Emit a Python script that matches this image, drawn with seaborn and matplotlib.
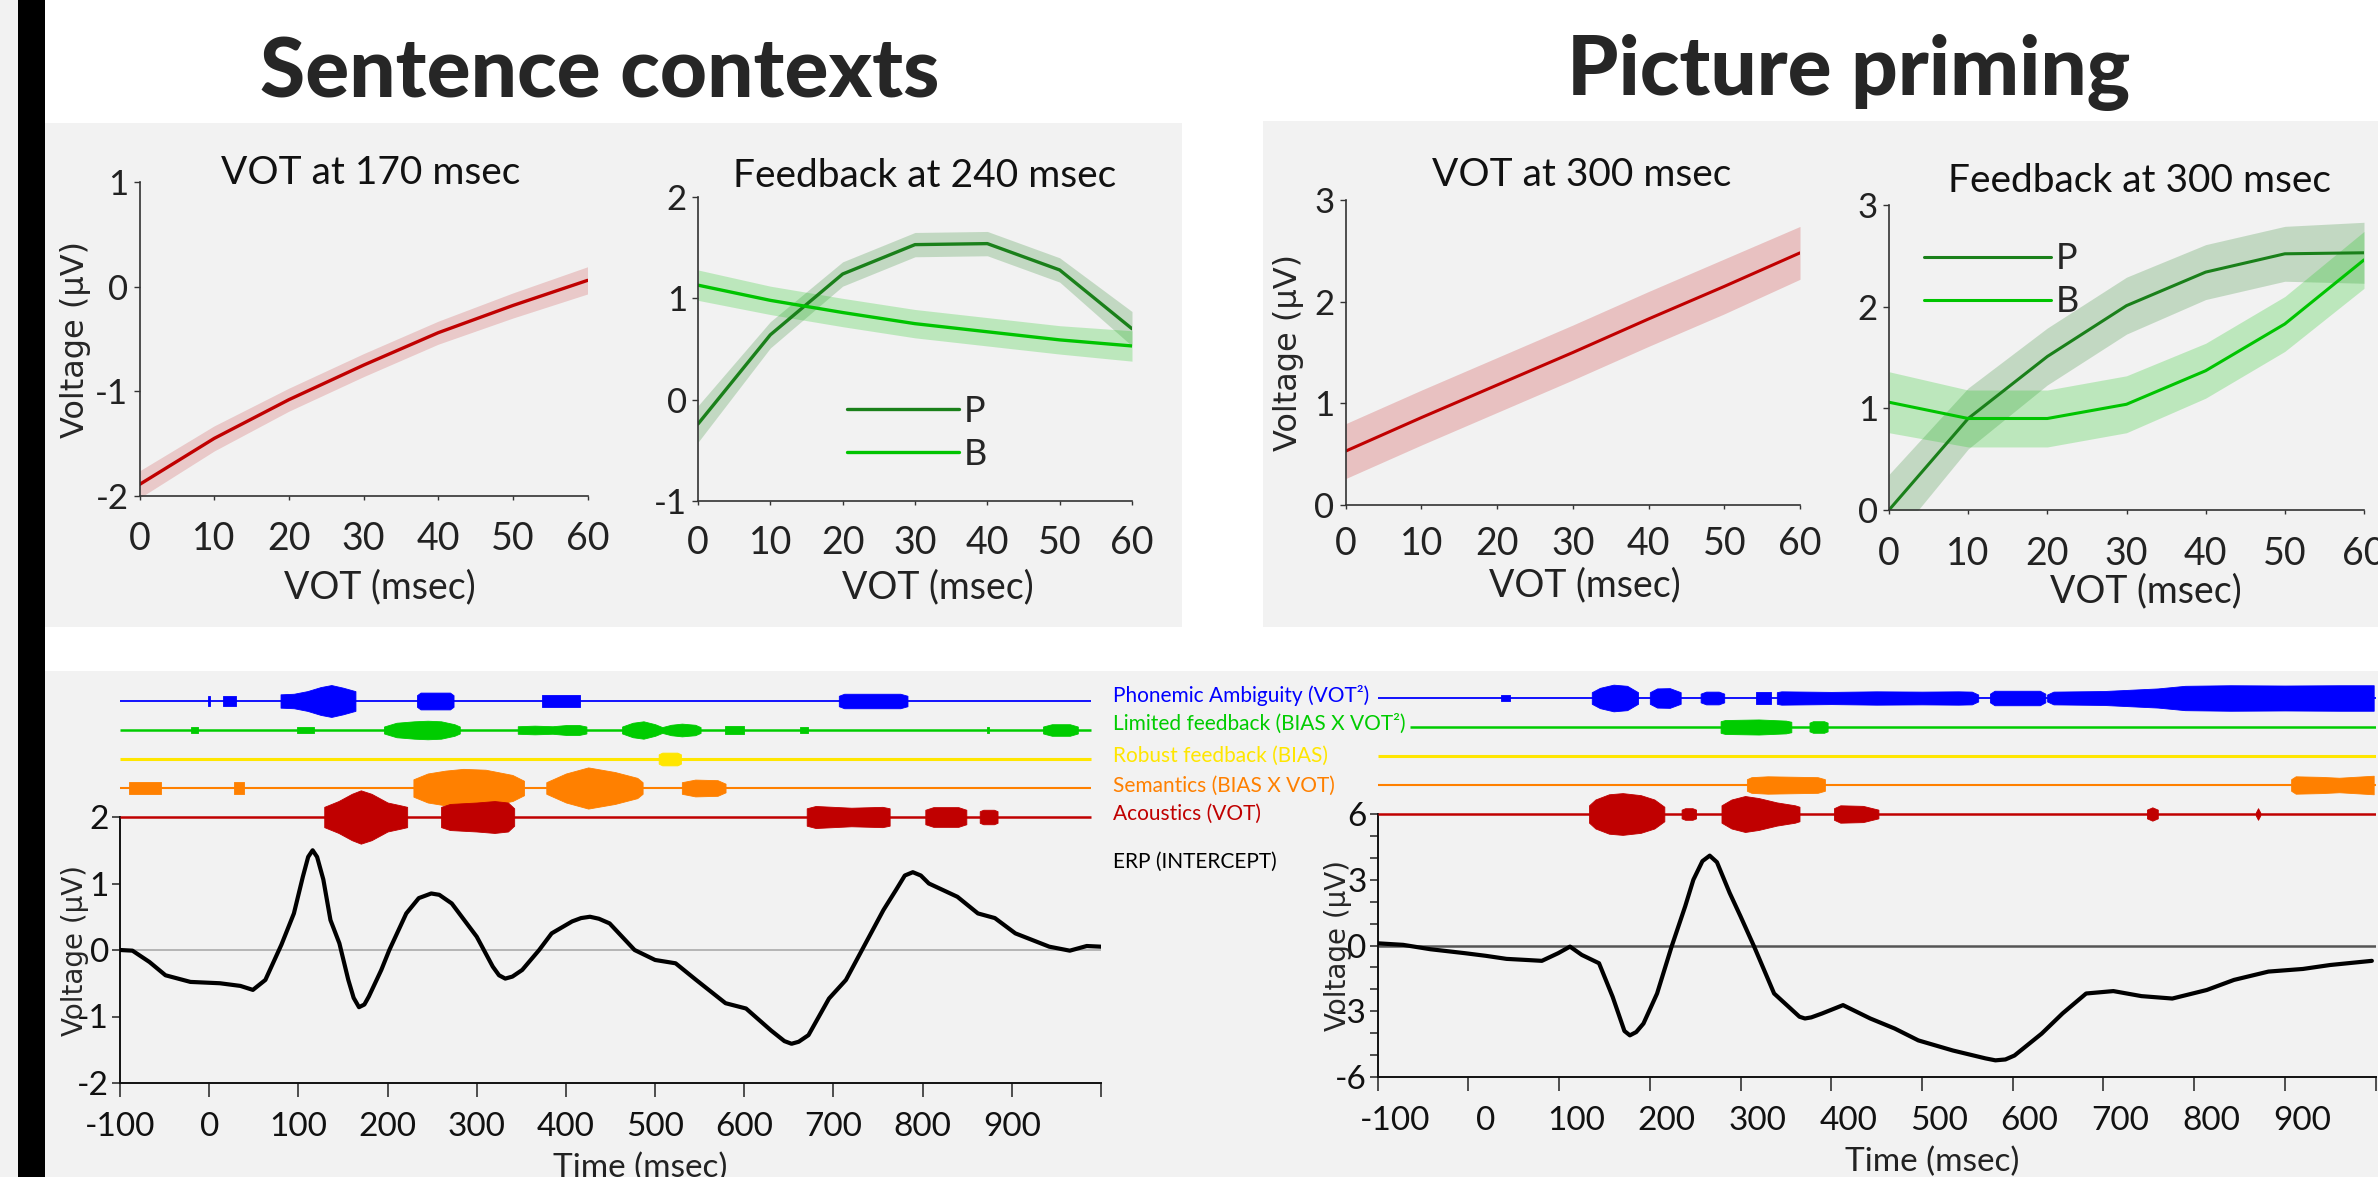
import numpy as np
import matplotlib
matplotlib.use('Agg')
import matplotlib.pyplot as plt
from matplotlib.patches import Rectangle
from matplotlib.ticker import FixedLocator, MultipleLocator
from matplotlib.transforms import ScaledTranslation
import seaborn as sns

W, H = 2378, 1177

# ── top panels: VOT effect and feedback (P/B) curves ──
vot = [0, 10, 20, 30, 40, 50, 60]

sc_vot_mean = [-1.89, -1.45, -1.08, -0.75, -0.44, -0.18, 0.06]
sc_vot_se = [0.13, 0.12, 0.11, 0.11, 0.11, 0.12, 0.13]
sc_p_mean = [-0.24, 0.64, 1.24, 1.53, 1.54, 1.28, 0.70]
sc_p_se = [0.18, 0.13, 0.12, 0.12, 0.12, 0.12, 0.17]
sc_b_mean = [1.13, 0.98, 0.86, 0.75, 0.67, 0.59, 0.53]
sc_b_se = [0.15, 0.14, 0.14, 0.14, 0.14, 0.14, 0.15]

pp_vot_mean = [0.53, 0.86, 1.18, 1.50, 1.83, 2.15, 2.48]
pp_vot_se = [0.27, 0.27, 0.27, 0.27, 0.27, 0.27, 0.26]
pp_p_mean = [0.00, 0.90, 1.51, 2.01, 2.34, 2.52, 2.53]
pp_p_se = [0.35, 0.30, 0.28, 0.28, 0.27, 0.27, 0.30]
pp_b_mean = [1.06, 0.90, 0.90, 1.04, 1.37, 1.83, 2.46]
pp_b_se = [0.30, 0.28, 0.28, 0.28, 0.27, 0.27, 0.28]

# ── bottom panels: ERP (intercept) traces ──
erp_l_t = [-100, -86, -67, -49, -21, 12, 35, 49, 63, 81, 95, 105, 111, 116, 121,
           128, 136, 146, 156, 162, 168, 174, 179, 193, 202, 221, 235, 249, 258, 272,
           300, 318, 325, 332, 340, 351, 370, 384, 407, 417, 427, 437, 449, 477, 500,
           523, 546, 579, 602, 630, 645, 653, 661, 672, 695, 714, 732, 756, 770, 780,
           789, 798, 807, 839, 862, 881, 904, 923, 942, 965, 984, 1000]
erp_l_v = [0, -0.01, -0.18, -0.38, -0.48, -0.5, -0.54, -0.6, -0.45, 0.08, 0.55, 1.1, 1.4, 1.5, 1.4,
           1.06, 0.45, 0.1, -0.45, -0.72, -0.86, -0.82, -0.7, -0.3, 0, 0.55, 0.78, 0.85, 0.83, 0.7,
           0.2, -0.25, -0.38, -0.43, -0.4, -0.3, 0, 0.25, 0.43, 0.48, 0.5, 0.47, 0.4, 0, -0.15,
           -0.2, -0.45, -0.8, -0.88, -1.21, -1.37, -1.41, -1.38, -1.28, -0.73, -0.45, 0, 0.6, 0.9, 1.12,
           1.17, 1.12, 1.0, 0.8, 0.55, 0.48, 0.25, 0.15, 0.05, -0.01, 0.06, 0.05]

erp_r_t = [-100, -72, -42, -4, 19, 42, 64, 81, 99, 112, 125, 144, 159, 172, 178,
           185, 193, 208, 224, 239, 248, 258, 266, 274, 282, 288, 300, 315, 337, 365,
           371, 378, 390, 413, 443, 470, 496, 534, 570, 581, 592, 602, 632, 655, 681,
           711, 742, 776, 814, 844, 882, 920, 950, 996]
erp_r_v = [0.1, 0.03, -0.17, -0.35, -0.47, -0.61, -0.66, -0.7, -0.35, -0.05, -0.43, -0.81, -2.34, -3.9, -4.1,
           -3.95, -3.56, -2.19, -0.05, 1.79, 3.0, 3.85, 4.1, 3.8, 3.0, 2.4, 1.33, -0.05, -2.19, -3.25,
           -3.33, -3.28, -3.1, -2.72, -3.33, -3.79, -4.33, -4.79, -5.15, -5.24, -5.2, -5.02, -4.02, -3.1, -2.19,
           -2.08, -2.31, -2.42, -2.03, -1.57, -1.19, -1.07, -0.89, -0.7]

# ── significance tracks: each blob = (times in msec, half-thickness) ──
track_names = ['Phonemic Ambiguity (VOT²)', 'Limited feedback (BIAS X VOT²)',
               'Robust feedback (BIAS)', 'Semantics (BIAS X VOT)', 'Acoustics (VOT)']
track_colors = ['#0000ff', '#00cc00', '#ffe600', '#ff8000', '#c00000']

sc_blue = [([-1, 1], [0.17, 0.17]), ([15, 30], [0.18, 0.18]),
           ([80, 95, 110, 125, 137, 150, 164], [0.23, 0.25, 0.34, 0.48, 0.55, 0.46, 0.34]),
           ([233, 237, 270, 274], [0.2, 0.29, 0.29, 0.2]), ([373, 416], [0.2, 0.2]),
           ([706, 712, 775, 783], [0.18, 0.25, 0.25, 0.18])]
sc_green = [([-20, -13], [0.09, 0.09]), ([99, 117], [0.11, 0.11]),
            ([196, 210, 230, 245, 260, 275, 281], [0.12, 0.25, 0.3, 0.32, 0.3, 0.2, 0.12]),
            ([346, 365, 385, 400, 415, 423], [0.13, 0.15, 0.13, 0.17, 0.17, 0.12]),
            ([463, 475, 487, 500, 508, 518, 530, 545, 551], [0.12, 0.25, 0.3, 0.2, 0.1, 0.18, 0.22, 0.18, 0.1]),
            ([578, 600], [0.13, 0.13]), ([663, 671], [0.1, 0.1]), ([872, 874], [0.1, 0.1]),
            ([935, 945, 965, 974], [0.12, 0.2, 0.2, 0.12])]
sc_yellow = [([504, 508, 525, 529], [0.16, 0.22, 0.22, 0.16])]
sc_orange = [([-90, -54], [0.21, 0.21]), ([28, 39], [0.22, 0.22]),
             ([229, 245, 265, 285, 310, 340, 353], [0.3, 0.5, 0.6, 0.66, 0.63, 0.45, 0.25]),
             ([378, 400, 425, 455, 480, 486], [0.2, 0.5, 0.71, 0.55, 0.35, 0.2]),
             ([530, 545, 570, 579], [0.2, 0.29, 0.27, 0.15])]
sc_red = [([129, 145, 160, 170, 182, 200, 215, 222], [0.35, 0.55, 0.8, 0.92, 0.8, 0.5, 0.4, 0.35]),
          ([260, 270, 300, 320, 335, 342], [0.35, 0.45, 0.5, 0.55, 0.5, 0.3]),
          ([670, 680, 720, 755, 763], [0.3, 0.38, 0.32, 0.35, 0.3]),
          ([803, 812, 840, 849], [0.25, 0.34, 0.34, 0.25]),
          ([864, 868, 880, 884], [0.2, 0.25, 0.25, 0.2])]

pp_blue = [([36, 46], [0.11, 0.11]),
           ([136, 145, 160, 175, 187], [0.2, 0.35, 0.46, 0.42, 0.2]),
           ([200, 208, 222, 234], [0.2, 0.33, 0.34, 0.2]),
           ([256, 262, 276, 282], [0.15, 0.22, 0.22, 0.15]), ([317, 334], [0.2, 0.2]),
           ([340, 345, 400, 450, 500, 540, 555, 562], [0.2, 0.23, 0.21, 0.23, 0.22, 0.23, 0.22, 0.12]),
           ([575, 580, 630, 636], [0.15, 0.25, 0.25, 0.15]),
           ([638, 645, 700, 760, 790, 840, 900, 960, 998], [0.12, 0.22, 0.24, 0.33, 0.42, 0.44, 0.43, 0.44, 0.44])]
pp_green = [([278, 283, 320, 350, 356], [0.2, 0.24, 0.26, 0.22, 0.18]),
            ([376, 380, 392, 396], [0.15, 0.2, 0.2, 0.15])]
pp_yellow = []
pp_orange = [([307, 312, 330, 385, 393], [0.2, 0.27, 0.3, 0.27, 0.2]),
             ([907, 912, 940, 960, 998], [0.2, 0.3, 0.28, 0.25, 0.32])]
pp_red = [([133, 140, 155, 170, 190, 205, 216], [0.3, 0.5, 0.68, 0.72, 0.65, 0.5, 0.25]),
          ([235, 239, 247, 251], [0.15, 0.2, 0.2, 0.15]),
          ([279, 290, 305, 320, 340, 360, 365], [0.3, 0.5, 0.62, 0.55, 0.4, 0.3, 0.25]),
          ([403, 410, 435, 452], [0.2, 0.3, 0.28, 0.15]),
          ([748, 754, 760], [0.15, 0.23, 0.15]),
          ([868, 870.5, 873], [0.05, 0.2, 0.05])]

sc_track_start = [-100, -100, -100, -100, -100]
sc_track_end = 989
pp_track_start = [-100, -64, -100, -100, -100]
pp_track_end = 1000

# ── style ──
sns.set_style('ticks')
plt.rcParams['font.family'] = ['Lato', 'DejaVu Sans']
plt.rcParams['axes.unicode_minus'] = False
plt.rcParams['lines.solid_joinstyle'] = 'round'

PANEL = '#f2f2f2'
RED, GP, GB = '#c00000', '#1a801a', '#00c400'

fig = plt.figure(figsize=(W / 100, H / 100), dpi=100)
fig.patch.set_facecolor('white')


def px_axes(x0, y0, x1, y1):
    return fig.add_axes([x0 / W, 1 - y1 / H, (x1 - x0) / W, (y1 - y0) / H])


def px_rect(x0, y0, x1, y1, color):
    fig.add_artist(Rectangle((x0 / W, 1 - y1 / H), (x1 - x0) / W, (y1 - y0) / H,
                             transform=fig.transFigure, facecolor=color,
                             edgecolor='none', zorder=-10))


def ftext(x, y, s, **kw):
    fig.text(x / W, 1 - y / H, s, **kw)


# backgrounds
px_rect(0, 0, 18, H, PANEL)
px_rect(18, 0, 45, H, 'black')
px_rect(45, 123, 1182, 627, PANEL)
px_rect(1263, 121, W, 627, PANEL)
px_rect(45, 671, W, H, PANEL)

ftext(600, 98, 'Sentence contexts', fontsize=59, fontweight='black', ha='center', va='baseline')
ftext(1849, 95, 'Picture priming', fontsize=59, fontweight='black', ha='center', va='baseline')


def style_top(ax, ylim, yticks, xpad):
    ax.set_facecolor('none')
    ax.set_xlim(0, 60)
    ax.set_ylim(*ylim)
    ax.set_xticks(vot)
    ax.set_yticks(yticks)
    sns.despine(ax=ax)
    for s in ['left', 'bottom']:
        ax.spines[s].set_color('#333333')
        ax.spines[s].set_linewidth(1.2)
    ax.tick_params(axis='x', direction='out', length=3, width=1, color='#333333',
                   pad=xpad, labelsize=27, labelcolor='#222222')
    ax.tick_params(axis='y', direction='out', length=4, width=1, color='#333333',
                   pad=4, labelsize=25, labelcolor='#222222')


def band(ax, mean, se, color, alpha):
    m, s = np.array(mean), np.array(se)
    ax.fill_between(vot, m - s, m + s, color=color, alpha=alpha, lw=0)


def top_title(ax, s, x, y):
    ax.text(x, y, s, transform=ax.transAxes, ha='center', va='baseline',
            fontsize=28, color='#111111')


def xlab(ax, s, x, y, size):
    ax.set_xlabel(s, fontsize=size, color='#222222')
    ax.xaxis.set_label_coords(x, y)


def ylab(ax, x, size):
    ax.set_ylabel('Voltage (\u00b5V)', fontsize=size, family='DejaVu Sans', va='center')
    ax.yaxis.set_label_coords(x, 0.5)


leg_kw = dict(loc='upper left', frameon=False, fontsize=26, handletextpad=0.15,
              labelspacing=0.28, borderpad=0, borderaxespad=0)

# A1: VOT at 170 msec
a1 = px_axes(139.5, 182, 587.5, 496)
band(a1, sc_vot_mean, sc_vot_se, RED, 0.17)
sns.lineplot(x=vot, y=sc_vot_mean, ax=a1, color=RED, lw=2.4)
style_top(a1, (-2, 1), [-2, -1, 0, 1], 15)
top_title(a1, 'VOT at 170 msec', 0.517, 0.994)
xlab(a1, 'VOT (msec)', 0.537, -0.232, 27)
ylab(a1, -0.142, 23)

# A2: Feedback at 240 msec
a2 = px_axes(698, 197, 1132, 501)
band(a2, sc_p_mean, sc_p_se, GP, 0.22)
band(a2, sc_b_mean, sc_b_se, GB, 0.22)
sns.lineplot(x=vot, y=sc_p_mean, ax=a2, color=GP, lw=2.4, label='P')
sns.lineplot(x=vot, y=sc_b_mean, ax=a2, color=GB, lw=2.4, label='B')
style_top(a2, (-1, 2), [-1, 0, 1, 2], 14.5)
top_title(a2, 'Feedback at 240 msec', 0.523, 1.033)
xlab(a2, 'VOT (msec)', 0.553, -0.224, 27)
a2.set_ylabel('')
a2.legend(bbox_to_anchor=(0.343, 0.349), handlelength=3.1, **leg_kw)

# A3: VOT at 300 msec
a3 = px_axes(1345.7, 200, 1800, 505)
band(a3, pp_vot_mean, pp_vot_se, RED, 0.2)
sns.lineplot(x=vot, y=pp_vot_mean, ax=a3, color=RED, lw=2.2)
style_top(a3, (0, 3), [0, 1, 2, 3], 12)
top_title(a3, 'VOT at 300 msec', 0.52, 1.046)
xlab(a3, 'VOT (msec)', 0.527, -0.203, 27)
ylab(a3, -0.127, 23)

# A4: Feedback at 300 msec
a4 = px_axes(1889, 205, 2364, 510)
band(a4, pp_p_mean, pp_p_se, GP, 0.22)
band(a4, pp_b_mean, pp_b_se, GB, 0.22)
sns.lineplot(x=vot, y=pp_p_mean, ax=a4, color=GP, lw=2.2, label='P')
sns.lineplot(x=vot, y=pp_b_mean, ax=a4, color=GB, lw=2.2, label='B')
style_top(a4, (0, 3), [0, 1, 2, 3], 15.5)
top_title(a4, 'Feedback at 300 msec', 0.528, 1.043)
xlab(a4, 'VOT (msec)', 0.541, -0.207, 27)
a4.set_ylabel('')
a4.legend(bbox_to_anchor=(0.074, 0.878), handlelength=3.5, **leg_kw)


# ── ERP panels ──
def style_erp(ax, ylim, major, minor_step):
    ax.set_facecolor('none')
    ax.set_xlim(-100, 1000)
    ax.set_ylim(*ylim)
    ticks = list(range(-100, 1001, 100))
    ax.set_xticks(ticks)
    ax.set_xticklabels([str(t) for t in ticks[:-1]] + [''])
    ax.yaxis.set_major_locator(FixedLocator(major))
    if minor_step:
        ax.yaxis.set_minor_locator(MultipleLocator(minor_step))
    sns.despine(ax=ax)
    for s in ['left', 'bottom']:
        ax.spines[s].set_color('#111111')
        ax.spines[s].set_linewidth(1.4)
    ax.tick_params(axis='x', direction='out', length=10, width=1.2, color='#333333',
                   pad=11, labelsize=24, labelcolor='#111111')
    ax.tick_params(axis='y', which='both', direction='out', length=6, width=1.2,
                   color='#333333', pad=2, labelsize=24, labelcolor='#111111')


e1 = px_axes(120, 817, 1101, 1083)
e1.axhline(0, color='#b0b0b0', lw=1.3, zorder=1)
sns.lineplot(x=erp_l_t, y=erp_l_v, ax=e1, color='black', lw=3, zorder=3)
style_erp(e1, (-2, 2), [-2, -1, 0, 1, 2], None)
xlab(e1, 'Time (msec)', 0.53, -0.263, 24)
ylab(e1, -0.046, 20)

e2 = px_axes(1377.7, 814, 2375.5, 1077)
e2.axhline(0, color='#555555', lw=1.8, zorder=1)
sns.lineplot(x=erp_r_t, y=erp_r_v, ax=e2, color='black', lw=3, zorder=3)
style_erp(e2, (-6, 6), [-6, -3, 0, 3, 6], 1)
xlab(e2, 'Time (msec)', 0.556, -0.266, 24)
ylab(e2, -0.04, 20)
# tick labels of the right ERP sit a little to the right of their ticks
shift = ScaledTranslation(17 / 100, 0, fig.dpi_scale_trans)
for lbl in e2.get_xticklabels():
    lbl.set_transform(lbl.get_transform() + shift)


# ── significance tracks (drawn above ERP axes) ──
def draw_tracks(ax, track_blobs, starts, end, red_px):
    ax.set_xlim(-100, 1000)
    ax.set_ylim(-(900 - red_px) / 29, (red_px - 671) / 29)
    ax.axis('off')
    lws = [1.3, 1.8, 2.2, 1.5, 1.8]
    for k, blobs in enumerate(track_blobs):
        y0 = 4 - k
        c = track_colors[k]
        ax.plot([starts[k], end], [y0, y0], color=c, lw=lws[k], solid_capstyle='butt')
        for ts, hw in blobs:
            hw = np.array(hw)
            ax.fill_between(ts, y0 - hw, y0 + hw, color=c, lw=0.6, edgecolor=c)


t1 = px_axes(120, 671, 1101, 900)
draw_tracks(t1, [sc_blue, sc_green, sc_yellow, sc_orange, sc_red], sc_track_start, sc_track_end, 817)
t2 = px_axes(1377.7, 671, 2375.5, 900)
draw_tracks(t2, [pp_blue, pp_green, pp_yellow, pp_orange, pp_red], pp_track_start, pp_track_end, 814)

for name, color, y in zip(track_names, track_colors, [695, 724, 756, 786, 814]):
    ftext(1113, y, name, fontsize=15, color=color, ha='left', va='center')
ftext(1113, 862, 'ERP (INTERCEPT)', fontsize=15, color='black', ha='left', va='center')

fig.savefig('out.png', dpi=100, facecolor='white')
